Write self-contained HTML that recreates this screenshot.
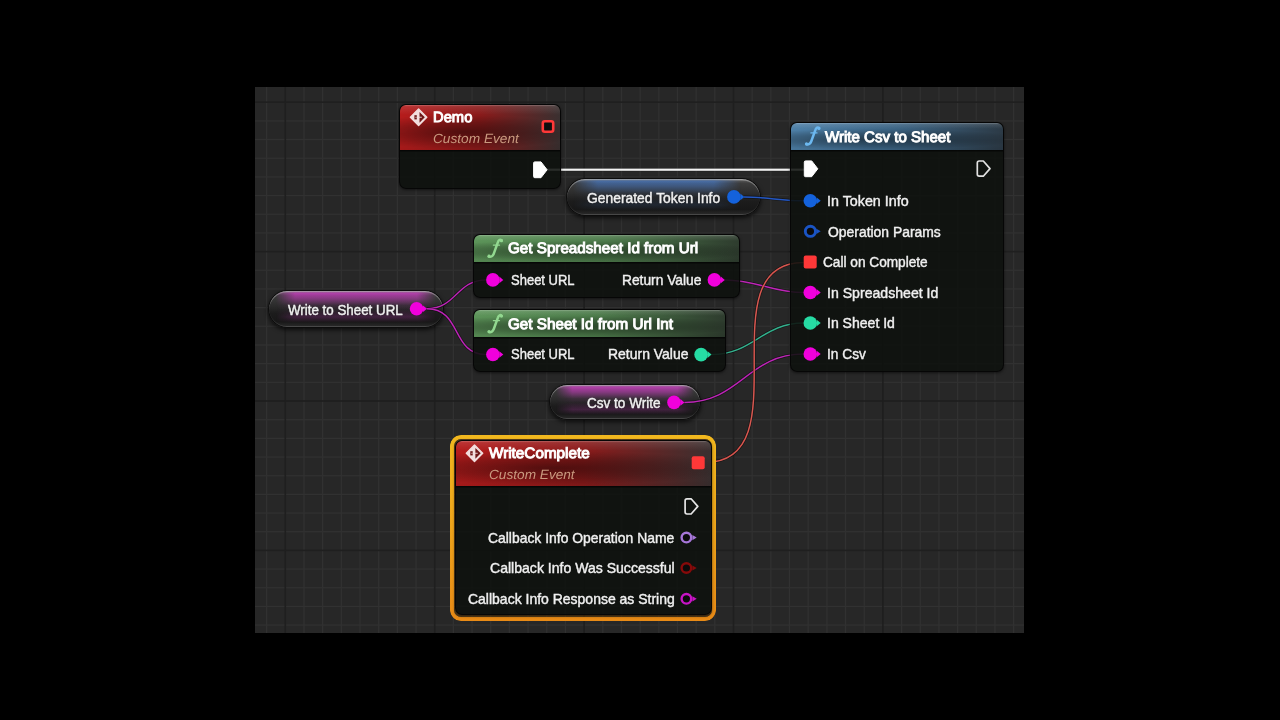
<!DOCTYPE html><html><head><meta charset="utf-8"><style>
html,body{margin:0;padding:0;background:#000;width:1280px;height:720px;overflow:hidden}
.g{position:absolute;left:255px;top:87px;width:769px;height:546px;background:#272727;overflow:hidden}
.layer{position:absolute;left:0;top:0;width:1280px;height:720px}
.t{position:absolute;font-family:"Liberation Sans", sans-serif;line-height:1;white-space:nowrap;-webkit-font-smoothing:antialiased}
.node{position:absolute;box-sizing:border-box;border:1.6px solid rgba(6,6,6,0.95);border-radius:7px;background:rgba(14,17,14,0.88);box-shadow:0 1px 3px rgba(0,0,0,0.55);overflow:hidden}
.hdr{position:absolute;left:0;top:0;right:0;border-radius:5px 5px 0 0;box-shadow:0 1.5px 0 rgba(0,0,0,0.6)}
.pill{position:absolute;box-sizing:border-box;border:1.6px solid #0c0c0c;box-shadow:0 2px 4px rgba(0,0,0,0.7), inset 0 1.4px 0.6px rgba(255,255,255,0.30), inset 0 -1px 0.6px rgba(255,255,255,0.10);overflow:hidden}
.spill{position:absolute;left:0;top:0;right:0;bottom:0;-webkit-mask-image:linear-gradient(90deg,transparent 4%,#000 15%,#000 85%,transparent 96%)}
.sel{position:absolute;box-sizing:border-box;padding:3.8px;border-radius:11px;background:linear-gradient(180deg,#f2b81e 0%,#eea41a 50%,#e88a16 100%);-webkit-mask:linear-gradient(#000 0 0) content-box,linear-gradient(#000 0 0);-webkit-mask-composite:xor;mask-composite:exclude}

</style></head><body>
<div class="g"><svg width="769" height="546" style="position:absolute;left:0;top:0"><rect x="10.98" y="0" width="1.3" height="546" fill="#313131"/><rect x="48.33" y="0" width="1.3" height="546" fill="#313131"/><rect x="67.00" y="0" width="1.3" height="546" fill="#313131"/><rect x="85.68" y="0" width="1.3" height="546" fill="#313131"/><rect x="104.35" y="0" width="1.3" height="546" fill="#313131"/><rect x="123.03" y="0" width="1.3" height="546" fill="#313131"/><rect x="141.70" y="0" width="1.3" height="546" fill="#313131"/><rect x="160.38" y="0" width="1.3" height="546" fill="#313131"/><rect x="197.73" y="0" width="1.3" height="546" fill="#313131"/><rect x="216.40" y="0" width="1.3" height="546" fill="#313131"/><rect x="235.08" y="0" width="1.3" height="546" fill="#313131"/><rect x="253.75" y="0" width="1.3" height="546" fill="#313131"/><rect x="272.43" y="0" width="1.3" height="546" fill="#313131"/><rect x="291.10" y="0" width="1.3" height="546" fill="#313131"/><rect x="309.78" y="0" width="1.3" height="546" fill="#313131"/><rect x="347.13" y="0" width="1.3" height="546" fill="#313131"/><rect x="365.80" y="0" width="1.3" height="546" fill="#313131"/><rect x="384.48" y="0" width="1.3" height="546" fill="#313131"/><rect x="403.15" y="0" width="1.3" height="546" fill="#313131"/><rect x="421.83" y="0" width="1.3" height="546" fill="#313131"/><rect x="440.50" y="0" width="1.3" height="546" fill="#313131"/><rect x="459.18" y="0" width="1.3" height="546" fill="#313131"/><rect x="496.53" y="0" width="1.3" height="546" fill="#313131"/><rect x="515.20" y="0" width="1.3" height="546" fill="#313131"/><rect x="533.88" y="0" width="1.3" height="546" fill="#313131"/><rect x="552.55" y="0" width="1.3" height="546" fill="#313131"/><rect x="571.23" y="0" width="1.3" height="546" fill="#313131"/><rect x="589.90" y="0" width="1.3" height="546" fill="#313131"/><rect x="608.58" y="0" width="1.3" height="546" fill="#313131"/><rect x="645.93" y="0" width="1.3" height="546" fill="#313131"/><rect x="664.60" y="0" width="1.3" height="546" fill="#313131"/><rect x="683.27" y="0" width="1.3" height="546" fill="#313131"/><rect x="701.95" y="0" width="1.3" height="546" fill="#313131"/><rect x="720.63" y="0" width="1.3" height="546" fill="#313131"/><rect x="739.30" y="0" width="1.3" height="546" fill="#313131"/><rect x="757.98" y="0" width="1.3" height="546" fill="#313131"/><rect x="0" y="33.23" width="769" height="1.3" fill="#313131"/><rect x="0" y="51.90" width="769" height="1.3" fill="#313131"/><rect x="0" y="70.58" width="769" height="1.3" fill="#313131"/><rect x="0" y="89.25" width="769" height="1.3" fill="#313131"/><rect x="0" y="107.92" width="769" height="1.3" fill="#313131"/><rect x="0" y="126.60" width="769" height="1.3" fill="#313131"/><rect x="0" y="145.28" width="769" height="1.3" fill="#313131"/><rect x="0" y="182.63" width="769" height="1.3" fill="#313131"/><rect x="0" y="201.30" width="769" height="1.3" fill="#313131"/><rect x="0" y="219.97" width="769" height="1.3" fill="#313131"/><rect x="0" y="238.65" width="769" height="1.3" fill="#313131"/><rect x="0" y="257.33" width="769" height="1.3" fill="#313131"/><rect x="0" y="276.00" width="769" height="1.3" fill="#313131"/><rect x="0" y="294.68" width="769" height="1.3" fill="#313131"/><rect x="0" y="332.03" width="769" height="1.3" fill="#313131"/><rect x="0" y="350.70" width="769" height="1.3" fill="#313131"/><rect x="0" y="369.38" width="769" height="1.3" fill="#313131"/><rect x="0" y="388.05" width="769" height="1.3" fill="#313131"/><rect x="0" y="406.73" width="769" height="1.3" fill="#313131"/><rect x="0" y="425.40" width="769" height="1.3" fill="#313131"/><rect x="0" y="444.08" width="769" height="1.3" fill="#313131"/><rect x="0" y="481.43" width="769" height="1.3" fill="#313131"/><rect x="0" y="500.10" width="769" height="1.3" fill="#313131"/><rect x="0" y="518.78" width="769" height="1.3" fill="#313131"/><rect x="0" y="537.45" width="769" height="1.3" fill="#313131"/><rect x="29.50" y="0" width="1.6" height="546" fill="#1f1f1f"/><rect x="178.90" y="0" width="1.6" height="546" fill="#1f1f1f"/><rect x="328.30" y="0" width="1.6" height="546" fill="#1f1f1f"/><rect x="477.70" y="0" width="1.6" height="546" fill="#1f1f1f"/><rect x="627.10" y="0" width="1.6" height="546" fill="#1f1f1f"/><rect x="0" y="14.40" width="769" height="1.6" fill="#1f1f1f"/><rect x="0" y="163.80" width="769" height="1.6" fill="#1f1f1f"/><rect x="0" y="313.20" width="769" height="1.6" fill="#1f1f1f"/><rect x="0" y="462.60" width="769" height="1.6" fill="#1f1f1f"/></svg></div>
<div class="pill" style="left:566.1px;top:177.6px;width:194.5px;height:38px;border-radius:19.0px;background:linear-gradient(180deg, #8a8a8a 0px, #555 1.6px, #3c3c3c 12%, #2c2c2c 40%, #1c1c1c 62%, #181818 85%, #262626 96%, #3a3a3a 100%)"><div class="spill" style="border-radius:19.0px;background:linear-gradient(180deg, rgba(70,120,195,0) 0px, rgba(70,120,195,0.72) 6%, rgba(70,120,195,0.50) 20%, rgba(70,120,195,0.10) 40%, rgba(70,120,195,0.04) 52%, rgba(70,120,195,0.14) 72%, rgba(70,120,195,0.0) 88%);-webkit-mask-image:linear-gradient(90deg,transparent 3%,#000 16%,#000 76%,transparent 90%);"></div></div>
<div class="pill" style="left:267.7px;top:289.5px;width:176.2px;height:38.6px;border-radius:19.3px;background:linear-gradient(180deg, #8a8a8a 0px, #555 1.6px, #3c3c3c 12%, #2c2c2c 40%, #1c1c1c 62%, #181818 85%, #262626 96%, #3a3a3a 100%)"><div class="spill" style="border-radius:19.3px;background:linear-gradient(180deg, rgba(205,60,195,0) 0px, rgba(205,60,195,0.78) 6%, rgba(205,60,195,0.55) 20%, rgba(205,60,195,0.10) 40%, rgba(205,60,195,0.04) 52%, rgba(205,60,195,0.22) 72%, rgba(205,60,195,0.0) 88%);"></div></div>
<div class="pill" style="left:548.7px;top:383.7px;width:152.3px;height:36.6px;border-radius:18.3px;background:linear-gradient(180deg, #8a8a8a 0px, #555 1.6px, #3c3c3c 12%, #2c2c2c 40%, #1c1c1c 62%, #181818 85%, #262626 96%, #3a3a3a 100%)"><div class="spill" style="border-radius:18.3px;background:linear-gradient(180deg, rgba(205,60,195,0) 0px, rgba(205,60,195,0.78) 6%, rgba(205,60,195,0.55) 20%, rgba(205,60,195,0.10) 40%, rgba(205,60,195,0.04) 52%, rgba(205,60,195,0.22) 72%, rgba(205,60,195,0.0) 88%);"></div></div>
<svg class="layer" width="1280" height="720"><rect x="540" y="168.2" width="271" height="3" fill="#000" fill-opacity="0.4"/><rect x="540" y="168.6" width="271" height="2.2" fill="#f2f2f2"/><path d="M744.0,197.0 C765.2,197.0 782.5,200.8 803.7,200.8" fill="none" stroke="#000" stroke-opacity="0.45" stroke-width="2.9"/><path d="M744.0,197.0 C765.2,197.0 782.5,200.8 803.7,200.8" fill="none" stroke="#1a4cb8" stroke-width="1.5"/><path d="M744.0,197.0 C765.2,197.0 782.5,200.8 803.7,200.8" fill="none" stroke="#4a80e0" stroke-width="0.60" stroke-opacity="0.45"/><path d="M427.0,308.7 C456.3,308.7 456.8,279.9 486.1,279.9" fill="none" stroke="#000" stroke-opacity="0.45" stroke-width="2.9"/><path d="M427.0,308.7 C456.3,308.7 456.8,279.9 486.1,279.9" fill="none" stroke="#a814a4" stroke-width="1.5"/><path d="M427.0,308.7 C456.3,308.7 456.8,279.9 486.1,279.9" fill="none" stroke="#ff70f0" stroke-width="0.60" stroke-opacity="0.45"/><path d="M427.0,308.7 C462.0,308.7 451.1,354.5 486.1,354.5" fill="none" stroke="#000" stroke-opacity="0.45" stroke-width="2.9"/><path d="M427.0,308.7 C462.0,308.7 451.1,354.5 486.1,354.5" fill="none" stroke="#a814a4" stroke-width="1.5"/><path d="M427.0,308.7 C462.0,308.7 451.1,354.5 486.1,354.5" fill="none" stroke="#ff70f0" stroke-width="0.60" stroke-opacity="0.45"/><path d="M724.8,279.9 C755.3,279.9 773.2,292.5 803.7,292.5" fill="none" stroke="#000" stroke-opacity="0.45" stroke-width="2.9"/><path d="M724.8,279.9 C755.3,279.9 773.2,292.5 803.7,292.5" fill="none" stroke="#a814a4" stroke-width="1.5"/><path d="M724.8,279.9 C755.3,279.9 773.2,292.5 803.7,292.5" fill="none" stroke="#ff70f0" stroke-width="0.60" stroke-opacity="0.45"/><path d="M684.4,402.4 C740.3,402.4 747.8,354.0 803.7,354.0" fill="none" stroke="#000" stroke-opacity="0.45" stroke-width="2.9"/><path d="M684.4,402.4 C740.3,402.4 747.8,354.0 803.7,354.0" fill="none" stroke="#a814a4" stroke-width="1.5"/><path d="M684.4,402.4 C740.3,402.4 747.8,354.0 803.7,354.0" fill="none" stroke="#ff70f0" stroke-width="0.60" stroke-opacity="0.45"/><path d="M711.5,354.6 C752.8,354.6 762.4,323.0 803.7,323.0" fill="none" stroke="#000" stroke-opacity="0.45" stroke-width="2.9"/><path d="M711.5,354.6 C752.8,354.6 762.4,323.0 803.7,323.0" fill="none" stroke="#22a07e" stroke-width="1.5"/><path d="M711.5,354.6 C752.8,354.6 762.4,323.0 803.7,323.0" fill="none" stroke="#80e0c0" stroke-width="0.60" stroke-opacity="0.45"/><path d="M704.7,462.6 C804.4,462.6 704.0,262.4 803.7,262.4" fill="none" stroke="#000" stroke-opacity="0.45" stroke-width="2.9"/><path d="M704.7,462.6 C804.4,462.6 704.0,262.4 803.7,262.4" fill="none" stroke="#cc4640" stroke-width="1.5"/><path d="M704.7,462.6 C804.4,462.6 704.0,262.4 803.7,262.4" fill="none" stroke="#f49a90" stroke-width="0.60" stroke-opacity="0.45"/></svg>
<div class="node" style="left:398.7px;top:103.7px;width:162.2px;height:85px;"><div class="hdr" style="height:45.4px;background:linear-gradient(180deg, rgba(255,255,255,0.32) 0px, rgba(255,255,255,0.10) 1.6px, rgba(255,255,255,0.0) 22%),radial-gradient(ellipse 75% 38% at 38% 60%, rgba(0,0,0,0.45) 0%, rgba(0,0,0,0.23) 55%, rgba(0,0,0,0) 100%),linear-gradient(180deg, rgba(0,0,0,0) 55%, rgba(0,0,0,0.10) 100%),linear-gradient(90deg, #b61c1c 0%, #8a1a1a 50%, #3a3030 100%)"></div></div>
<div class="node" style="left:790.0px;top:121.5px;width:214.4px;height:250px;"><div class="hdr" style="height:27.4px;background:linear-gradient(180deg, rgba(255,255,255,0.32) 0px, rgba(255,255,255,0.10) 1.6px, rgba(255,255,255,0.0) 22%),radial-gradient(ellipse 75% 38% at 38% 60%, rgba(0,0,0,0.45) 0%, rgba(0,0,0,0.23) 55%, rgba(0,0,0,0) 100%),linear-gradient(180deg, rgba(0,0,0,0) 55%, rgba(0,0,0,0.10) 100%),linear-gradient(90deg, #4e80a8 0%, #3c6484 50%, #2c3a46 100%)"></div></div>
<div class="node" style="left:473.3px;top:234.2px;width:266.3px;height:63.5px;"><div class="hdr" style="height:26.6px;background:linear-gradient(180deg, rgba(255,255,255,0.32) 0px, rgba(255,255,255,0.10) 1.6px, rgba(255,255,255,0.0) 22%),radial-gradient(ellipse 75% 38% at 38% 60%, rgba(0,0,0,0.45) 0%, rgba(0,0,0,0.23) 55%, rgba(0,0,0,0) 100%),linear-gradient(180deg, rgba(0,0,0,0) 55%, rgba(0,0,0,0.10) 100%),linear-gradient(90deg, #5c9459 0%, #4c7a4a 50%, #2e3c2e 100%)"></div></div>
<div class="node" style="left:473.3px;top:308.6px;width:253.1px;height:63.5px;"><div class="hdr" style="height:27.0px;background:linear-gradient(180deg, rgba(255,255,255,0.32) 0px, rgba(255,255,255,0.10) 1.6px, rgba(255,255,255,0.0) 22%),radial-gradient(ellipse 75% 38% at 38% 60%, rgba(0,0,0,0.45) 0%, rgba(0,0,0,0.23) 55%, rgba(0,0,0,0) 100%),linear-gradient(180deg, rgba(0,0,0,0) 55%, rgba(0,0,0,0.10) 100%),linear-gradient(90deg, #5c9459 0%, #4c7a4a 50%, #2e3c2e 100%)"></div></div>
<div class="sel" style="left:450px;top:435px;width:265.8px;height:186px"></div>
<div style="position:absolute;left:453.8px;top:438.8px;width:258.2px;height:178.4px;box-sizing:border-box;border:2.2px solid rgba(150,90,10,0.45);border-radius:8px"></div>
<div class="node" style="left:455.4px;top:440.3px;width:256.2px;height:174.9px;"><div class="hdr" style="height:44.6px;background:linear-gradient(180deg, rgba(255,255,255,0.32) 0px, rgba(255,255,255,0.10) 1.6px, rgba(255,255,255,0.0) 22%),radial-gradient(ellipse 75% 38% at 38% 60%, rgba(0,0,0,0.45) 0%, rgba(0,0,0,0.23) 55%, rgba(0,0,0,0) 100%),linear-gradient(180deg, rgba(0,0,0,0) 55%, rgba(0,0,0,0.10) 100%),linear-gradient(90deg, #b61c1c 0%, #8a1a1a 50%, #3a3030 100%)"></div></div>
<svg class="layer" width="1280" height="720"><g transform="translate(418.6,117.3)"><path d="M0,-8.2 L8.2,0 L0,8.2 L-8.2,0 Z" fill="#f2dede" stroke="#f2dede" stroke-width="1.4" stroke-linejoin="round"/><path d="M0.9,-5.4 L6.2,0 L0.9,5.4 Z" fill="#6e1616"/><rect x="-4.2" y="-2.1" width="2.4" height="4.2" fill="#6e1616"/><rect x="-3.4" y="-0.5" width="1.6" height="1.0" fill="#f2dede" fill-opacity="0.6"/><rect x="-0.4" y="-0.6" width="3.6" height="1.2" fill="#f2dede" fill-opacity="0.75"/></g><rect x="542.8" y="121.3" width="10.4" height="10.4" rx="2" fill="#0d0d0d" stroke="#ff3838" stroke-width="2.6"/><path d="M534.8000000000001,161.9 L541.0,161.9 L547.1,169.8 L541.0,177.70000000000002 L534.8000000000001,177.70000000000002 Q533.6,177.70000000000002 533.6,176.5 L533.6,163.10000000000002 Q533.6,161.9 534.8000000000001,161.9 Z" fill="#ffffff" stroke="#ffffff" stroke-width="1.0" stroke-linejoin="round"/><path d="M805.5,160.9 L811.6999999999999,160.9 L817.8,168.8 L811.6999999999999,176.70000000000002 L805.5,176.70000000000002 Q804.3,176.70000000000002 804.3,175.5 L804.3,162.10000000000002 Q804.3,160.9 805.5,160.9 Z" fill="#ffffff" stroke="#ffffff" stroke-width="1.0" stroke-linejoin="round"/><path d="M979.1999999999999,161.0 L983.3,161.0 L990.0,168.6 L983.3,176.2 L979.1999999999999,176.2 Q977.3,176.2 977.3,174.29999999999998 L977.3,162.9 Q977.3,161.0 979.1999999999999,161.0 Z" fill="none" stroke="#e2e2e2" stroke-width="1.7" stroke-linejoin="round"/><circle cx="810.3" cy="200.8" r="6.8" fill="#1462dc"/><path d="M816.6999999999999,197.5 L820.6999999999999,200.8 L816.6999999999999,204.10000000000002 Z" fill="#1462dc"/><circle cx="810.4" cy="231.3" r="5.1" fill="#0b0b0b" stroke="#1a54c4" stroke-width="2.9"/><path d="M816.4,228.70000000000002 L820.6999999999999,231.3 L816.4,233.9 Z" fill="#1a54c4"/><rect x="803.7" y="255.6" width="13" height="13" rx="2" fill="#ff3838"/><circle cx="810.3" cy="292.5" r="6.8" fill="#f000dc"/><path d="M816.6999999999999,289.2 L820.6999999999999,292.5 L816.6999999999999,295.8 Z" fill="#f000dc"/><circle cx="810.3" cy="323.0" r="6.8" fill="#26dca4"/><path d="M816.6999999999999,319.7 L820.6999999999999,323.0 L816.6999999999999,326.3 Z" fill="#26dca4"/><circle cx="810.3" cy="354.0" r="6.8" fill="#f000dc"/><path d="M816.6999999999999,350.7 L820.6999999999999,354.0 L816.6999999999999,357.3 Z" fill="#f000dc"/><circle cx="492.9" cy="279.9" r="6.8" fill="#f000dc"/><path d="M499.29999999999995,276.59999999999997 L503.29999999999995,279.9 L499.29999999999995,283.2 Z" fill="#f000dc"/><circle cx="714.4" cy="279.9" r="6.8" fill="#f000dc"/><path d="M720.8,276.59999999999997 L724.8,279.9 L720.8,283.2 Z" fill="#f000dc"/><circle cx="492.9" cy="354.5" r="6.8" fill="#f000dc"/><path d="M499.29999999999995,351.2 L503.29999999999995,354.5 L499.29999999999995,357.8 Z" fill="#f000dc"/><circle cx="701.1" cy="354.6" r="6.8" fill="#26dca4"/><path d="M707.5,351.3 L711.5,354.6 L707.5,357.90000000000003 Z" fill="#26dca4"/><circle cx="733.9" cy="196.9" r="6.8" fill="#1462dc"/><path d="M740.3,193.6 L744.3,196.9 L740.3,200.20000000000002 Z" fill="#1462dc"/><circle cx="416.6" cy="308.8" r="6.8" fill="#f000dc"/><path d="M423.0,305.5 L427.0,308.8 L423.0,312.1 Z" fill="#f000dc"/><circle cx="674.0" cy="402.4" r="6.8" fill="#f000dc"/><path d="M680.4,399.09999999999997 L684.4,402.4 L680.4,405.7 Z" fill="#f000dc"/><g transform="translate(474.5,453.3)"><path d="M0,-8.2 L8.2,0 L0,8.2 L-8.2,0 Z" fill="#f2dede" stroke="#f2dede" stroke-width="1.4" stroke-linejoin="round"/><path d="M0.9,-5.4 L6.2,0 L0.9,5.4 Z" fill="#6e1616"/><rect x="-4.2" y="-2.1" width="2.4" height="4.2" fill="#6e1616"/><rect x="-3.4" y="-0.5" width="1.6" height="1.0" fill="#f2dede" fill-opacity="0.6"/><rect x="-0.4" y="-0.6" width="3.6" height="1.2" fill="#f2dede" fill-opacity="0.75"/></g><rect x="691.7" y="456.2" width="13" height="13" rx="2" fill="#ff3838"/><path d="M687.0,498.79999999999995 L691.1,498.79999999999995 L697.8000000000001,506.4 L691.1,514.0 L687.0,514.0 Q685.1,514.0 685.1,512.1 L685.1,500.7 Q685.1,498.79999999999995 687.0,498.79999999999995 Z" fill="none" stroke="#e6e6e6" stroke-width="1.7" stroke-linejoin="round"/><circle cx="686.4" cy="537.6" r="4.8" fill="#0b0b0b" stroke="#a676d8" stroke-width="2.4"/><path d="M692.4,535.0 L696.6999999999999,537.6 L692.4,540.2 Z" fill="#a676d8"/><circle cx="686.4" cy="568.0" r="4.8" fill="#0b0b0b" stroke="#860a0a" stroke-width="2.4"/><path d="M692.4,565.4 L696.6999999999999,568.0 L692.4,570.6 Z" fill="#860a0a"/><circle cx="686.4" cy="598.8" r="4.8" fill="#0b0b0b" stroke="#c814c6" stroke-width="2.4"/><path d="M692.4,596.1999999999999 L696.6999999999999,598.8 L692.4,601.4 Z" fill="#c814c6"/><path d="M819.1,127.9 C817.9,126.9 816.1,127.4 815.4,129.9 L811.2,141.5 C810.5,143.7 808.5,144.9 806.5,144.3" fill="none" stroke="#6cb8f0" stroke-width="2.5" stroke-linecap="round"/><circle cx="818.9" cy="128.4" r="1.6" fill="#6cb8f0"/><circle cx="806.5" cy="143.9" r="1.6" fill="#6cb8f0"/><path d="M810.9,132.9 L817.0,132.9" stroke="#6cb8f0" stroke-width="1.3" stroke-linecap="round"/><path d="M501.6,240.20000000000002 C500.4,239.20000000000002 498.6,239.70000000000002 497.9,242.20000000000002 L493.7,253.8 C493.0,256.0 491.0,257.2 489.0,256.6" fill="none" stroke="#92d890" stroke-width="2.5" stroke-linecap="round"/><circle cx="501.4" cy="240.70000000000002" r="1.6" fill="#92d890"/><circle cx="489.0" cy="256.2" r="1.6" fill="#92d890"/><path d="M493.4,245.20000000000002 L499.5,245.20000000000002" stroke="#92d890" stroke-width="1.3" stroke-linecap="round"/><path d="M501.6,315.59999999999997 C500.4,314.59999999999997 498.6,315.09999999999997 497.9,317.59999999999997 L493.7,329.2 C493.0,331.4 491.0,332.59999999999997 489.0,332.0" fill="none" stroke="#92d890" stroke-width="2.5" stroke-linecap="round"/><circle cx="501.4" cy="316.09999999999997" r="1.6" fill="#92d890"/><circle cx="489.0" cy="331.59999999999997" r="1.6" fill="#92d890"/><path d="M493.4,320.59999999999997 L499.5,320.59999999999997" stroke="#92d890" stroke-width="1.3" stroke-linecap="round"/></svg>
<div class="t" style="left:432.80px;top:111.00px;font-size:14.81px;font-weight:normal;font-style:normal;color:#ffffff;text-rendering:geometricPrecision;-webkit-text-stroke:1.0px;transform:scale(0.9963,1.0);transform-origin:0 13px">Demo</div>
<div class="t" style="left:432.90px;top:132.30px;font-size:13.31px;font-weight:normal;font-style:italic;color:#c9997f;text-rendering:geometricPrecision;transform:scale(1.0281,1.0);transform-origin:0 11px">Custom Event</div>
<div class="t" style="left:825.40px;top:129.90px;font-size:15.23px;font-weight:normal;font-style:normal;color:#ffffff;text-rendering:geometricPrecision;-webkit-text-stroke:1.0px;transform:scale(0.9909,1.0);transform-origin:0 13px">Write Csv to Sheet</div>
<div class="t" style="left:826.57px;top:195.10px;font-size:13.85px;font-weight:normal;font-style:normal;color:#f0f0f0;-webkit-text-stroke:0.4px;transform:scale(1.0335,1.0);transform-origin:0 12px">In Token Info</div>
<div class="t" style="left:827.60px;top:225.60px;font-size:13.85px;font-weight:normal;font-style:normal;color:#f0f0f0;-webkit-text-stroke:0.4px;transform:scale(1.0043,1.0);transform-origin:0 12px">Operation Params</div>
<div class="t" style="left:822.80px;top:256.20px;font-size:13.85px;font-weight:normal;font-style:normal;color:#f0f0f0;-webkit-text-stroke:0.4px;transform:scale(0.986,1.0);transform-origin:0 12px">Call on Complete</div>
<div class="t" style="left:826.58px;top:286.80px;font-size:13.85px;font-weight:normal;font-style:normal;color:#f0f0f0;-webkit-text-stroke:0.4px;transform:scale(1.0187,1.0);transform-origin:0 12px">In Spreadsheet Id</div>
<div class="t" style="left:826.59px;top:317.30px;font-size:13.85px;font-weight:normal;font-style:normal;color:#f0f0f0;-webkit-text-stroke:0.4px;transform:scale(1.0144,1.0);transform-origin:0 12px">In Sheet Id</div>
<div class="t" style="left:826.61px;top:347.70px;font-size:13.85px;font-weight:normal;font-style:normal;color:#f0f0f0;-webkit-text-stroke:0.4px;transform:scale(0.9919,1.0);transform-origin:0 12px">In Csv</div>
<div class="t" style="left:508.30px;top:241.40px;font-size:15.09px;font-weight:normal;font-style:normal;color:#ffffff;text-rendering:geometricPrecision;-webkit-text-stroke:1.0px;transform:scale(1.0085,1.0);transform-origin:0 13px">Get Spreadsheet Id from Url</div>
<div class="t" style="left:510.70px;top:274.10px;font-size:13.72px;font-weight:normal;font-style:normal;color:#f0f0f0;-webkit-text-stroke:0.4px;transform:scale(0.9477,1.0);transform-origin:0 12px">Sheet URL</div>
<div class="t" style="left:622.40px;top:274.10px;font-size:13.72px;font-weight:normal;font-style:normal;color:#f0f0f0;-webkit-text-stroke:0.4px;transform:scale(1.0035,1.0);transform-origin:0 12px">Return Value</div>
<div class="t" style="left:508.30px;top:316.60px;font-size:15.09px;font-weight:normal;font-style:normal;color:#ffffff;text-rendering:geometricPrecision;-webkit-text-stroke:1.0px;transform:scale(1.0102,1.0);transform-origin:0 13px">Get Sheet Id from Url Int</div>
<div class="t" style="left:510.70px;top:348.30px;font-size:13.72px;font-weight:normal;font-style:normal;color:#f0f0f0;-webkit-text-stroke:0.4px;transform:scale(0.9477,1.0);transform-origin:0 12px">Sheet URL</div>
<div class="t" style="left:608.38px;top:348.30px;font-size:13.72px;font-weight:normal;font-style:normal;color:#f0f0f0;-webkit-text-stroke:0.4px;transform:scale(1.0175,1.0);transform-origin:0 12px">Return Value</div>
<div class="t" style="left:587.20px;top:192.20px;font-size:13.72px;font-weight:normal;font-style:normal;color:#f0f0f0;-webkit-text-stroke:0.4px;transform:scale(1.0112,1.0);transform-origin:0 12px">Generated Token Info</div>
<div class="t" style="left:288.40px;top:303.90px;font-size:13.72px;font-weight:normal;font-style:normal;color:#f0f0f0;-webkit-text-stroke:0.4px;transform:scale(0.973,1.0);transform-origin:0 12px">Write to Sheet URL</div>
<div class="t" style="left:587.10px;top:397.40px;font-size:13.72px;font-weight:normal;font-style:normal;color:#f0f0f0;-webkit-text-stroke:0.4px;transform:scale(0.9877,1.0);transform-origin:0 12px">Csv to Write</div>
<div class="t" style="left:489.40px;top:446.90px;font-size:14.95px;font-weight:normal;font-style:normal;color:#ffffff;text-rendering:geometricPrecision;-webkit-text-stroke:1.0px;transform:scale(1.0224,1.0);transform-origin:0 13px">WriteComplete</div>
<div class="t" style="left:489.00px;top:468.20px;font-size:13.31px;font-weight:normal;font-style:italic;color:#c9997f;text-rendering:geometricPrecision;transform:scale(1.0258,1.0);transform-origin:0 11px">Custom Event</div>
<div class="t" style="left:487.70px;top:532.00px;font-size:13.72px;font-weight:normal;font-style:normal;color:#f0f0f0;-webkit-text-stroke:0.4px;transform:scale(1.0134,1.0);transform-origin:0 12px">Callback Info Operation Name</div>
<div class="t" style="left:489.70px;top:562.30px;font-size:13.72px;font-weight:normal;font-style:normal;color:#f0f0f0;-webkit-text-stroke:0.4px;transform:scale(1.0247,1.0);transform-origin:0 12px">Callback Info Was Successful</div>
<div class="t" style="left:468.20px;top:592.50px;font-size:13.72px;font-weight:normal;font-style:normal;color:#f0f0f0;-webkit-text-stroke:0.4px;transform:scale(1.0192,1.0);transform-origin:0 12px">Callback Info Response as String</div>
</body></html>
